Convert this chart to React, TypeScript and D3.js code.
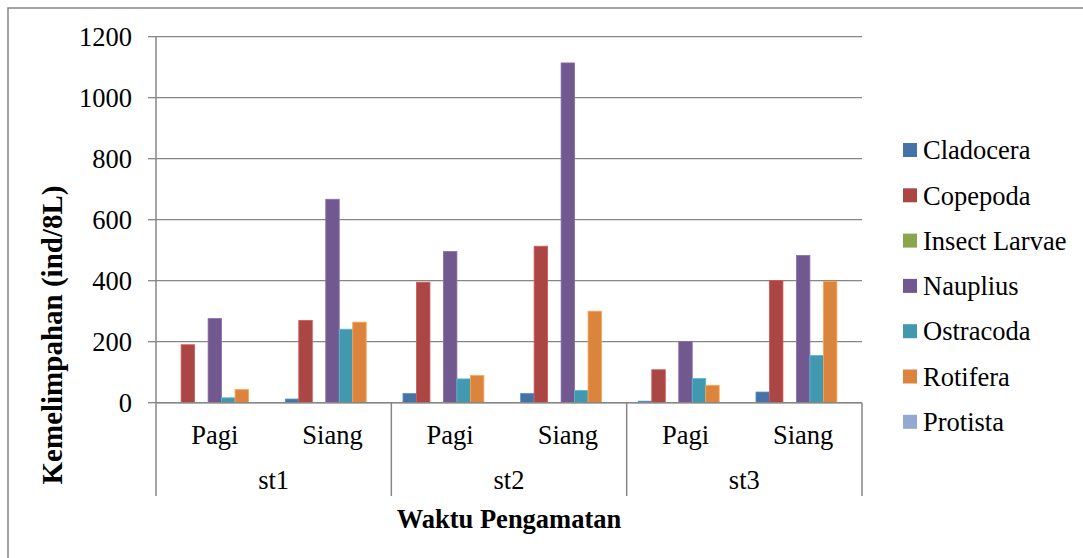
import React from "react";
import * as d3 from "d3";

const categories = ["st1-Pagi", "st1-Siang", "st2-Pagi", "st2-Siang", "st3-Pagi", "st3-Siang"];
const timeLabels = ["Pagi", "Siang", "Pagi", "Siang", "Pagi", "Siang"];
const stations = ["st1", "st2", "st3"];
const seriesNames = ["Cladocera", "Copepoda", "Insect Larvae", "Nauplius", "Ostracoda", "Rotifera", "Protista"];
const cladocera = [0, 12, 30, 30, 5, 35];
const copepoda = [190, 270, 395, 513, 108, 401];
const insectLarvae = [0, 0, 0, 0, 0, 0];
const nauplius = [276, 667, 496, 1114, 201, 483];
const ostracoda = [16, 241, 78, 40, 79, 155];
const rotifera = [43, 264, 89, 300, 57, 398];
const protista = [0, 0, 0, 0, 0, 0];
const yTicks = [0, 200, 400, 600, 800, 1000, 1200];
const colors = ["#4572A7", "#AA4643", "#89A54E", "#71588F", "#4198AF", "#DB843D", "#93A9CF"];
const seriesValues = [cladocera, copepoda, insectLarvae, nauplius, ostracoda, rotifera, protista];

const W = 1083, H = 558;
const left = 156, right = 862, top = 36.7, bottom = 402.7;
const font = "Times New Roman, Liberation Serif, DejaVu Serif, serif";
const grey = "#868686";
const fs = 26.5;

export default function App() {
  const y = d3.scaleLinear().domain([0, 1200]).range([bottom, top]);
  const x0 = d3.scaleBand().domain(categories).range([left, right]).padding(0);
  const bw = x0.bandwidth();
  const gap = bw * 0.099;
  const x1 = d3.scaleBand().domain(seriesNames).range([gap, bw - gap]).padding(0);
  const stationBand = d3.scaleBand().domain(stations).range([left, right]).padding(0);

  return (
    <svg width={W} height={H} style={{ position: "absolute", left: 0, top: 0, background: "#fff", fontFamily: font }}>
      <rect x={8} y={8} width={W + 20} height={H + 20} fill="#fff" stroke={grey} strokeWidth={1.5} />
      {yTicks.map((t) => (
        <line key={"g" + t} x1={left} x2={right} y1={y(t)} y2={y(t)} stroke={grey} strokeWidth={1.3} />
      ))}
      {categories.map((c, ci) => (
        <g key={c} transform={`translate(${x0(c)},0)`}>
          {seriesNames.map((s, si) => {
            const v = seriesValues[si][ci];
            if (v <= 0) return null;
            return (
              <rect
                key={s}
                x={x1(s)}
                y={y(v)}
                width={x1.bandwidth()}
                height={bottom - y(v)}
                fill={colors[si]}
                stroke={d3.color(colors[si])!.brighter(0.6).toString()}
                strokeWidth={0.8}
              />
            );
          })}
        </g>
      ))}
      <line x1={left} x2={left} y1={top} y2={496} stroke={grey} strokeWidth={1.5} />
      {yTicks.map((t) => (
        <g key={"t" + t}>
          <line x1={148} x2={left} y1={y(t)} y2={y(t)} stroke={grey} strokeWidth={1.3} />
          <text x={132} y={y(t)} dy="0.35em" textAnchor="end" fontSize={fs} fill="#000">
            {t}
          </text>
        </g>
      ))}
      <line x1={left} x2={right} y1={bottom} y2={bottom} stroke={grey} strokeWidth={1.5} />
      {stations.map((s) => (
        <line key={"sep" + s} x1={stationBand(s)! + stationBand.bandwidth()} x2={stationBand(s)! + stationBand.bandwidth()} y1={bottom} y2={496} stroke={grey} strokeWidth={1.5} />
      ))}
      {categories.map((c, ci) => (
        <text key={"cl" + c} x={x0(c)! + bw / 2} y={435} dy="0.35em" textAnchor="middle" fontSize={fs} fill="#000">
          {timeLabels[ci]}
        </text>
      ))}
      {stations.map((s) => (
        <text key={"sl" + s} x={stationBand(s)! + stationBand.bandwidth() / 2} y={480} dy="0.35em" textAnchor="middle" fontSize={fs} fill="#000">
          {s}
        </text>
      ))}
      <text x={(left + right) / 2} y={519} dy="0.35em" textAnchor="middle" fontSize={26.5} fontWeight="bold" fill="#000">
        Waktu Pengamatan
      </text>
      <text transform={`translate(52,335) rotate(-90)`} dy="0.35em" textAnchor="middle" fontSize={29} fontWeight="bold" fill="#000">
        Kemelimpahan (ind/8L)
      </text>
      {seriesNames.map((s, i) => {
        const cy = 150 + i * 45.3;
        return (
          <g key={"lg" + s}>
            <rect x={903} y={cy - 7} width={14} height={14} fill={colors[i]} />
            <text x={923} y={cy} dy="0.35em" fontSize={fs} fill="#000">
              {s}
            </text>
          </g>
        );
      })}
    </svg>
  );
}
